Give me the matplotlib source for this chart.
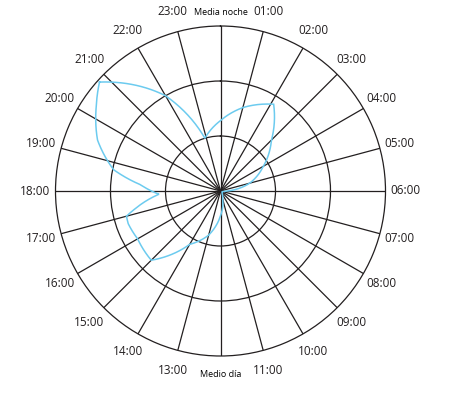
import numpy as np
import matplotlib.pyplot as plt

# labels around the clock, midnight at the top, running clockwise
hour_labels = ['Media noche', '01:00', '02:00', '03:00', '04:00', '05:00',
               '06:00', '07:00', '08:00', '09:00', '10:00', '11:00',
               'Medio día', '13:00', '14:00', '15:00', '16:00', '17:00',
               '18:00', '19:00', '20:00', '21:00', '22:00', '23:00']

# curve: hour of day and radius (outer ring = 3)
curve_hours = [20.8, 22.0, 22.9, 0.0, 1.0, 2.1, 3.0, 4.0, 5.0, 6.0, 7.0, 8.0,
               9.0, 10.0, 11.0, 12.0, 13.0, 14.0, 15.0, 16.0, 16.7, 17.0,
               17.2, 17.8, 18.3, 18.75, 19.5, 20.3]
curve_values = [2.96, 2.0, 1.0, 1.28, 1.57, 1.85, 1.31, 0.9, 0.55, 0.1, 0.04,
                0.03, 0.04, 0.06, 0.15, 0.45, 0.83, 1.12, 1.78, 1.74, 1.78,
                1.77, 1.6, 1.12, 1.46, 1.98, 2.42, 2.74]

ink = '#231f20'
cyan = '#6ccbef'

plt.rcParams['font.family'] = ['Open Sans', 'DejaVu Sans']

fig = plt.figure(figsize=(4.69, 4.01), dpi=100, facecolor='white')
ax = fig.add_axes([55.5 / 469, 45 / 401, 330 / 469, 330 / 401], projection='polar')
ax.set_theta_zero_location('N')
ax.set_theta_direction(-1)
ax.set_ylim(0, 3)
ax.set_yticks([1, 2])
ax.set_yticklabels([])
ax.set_xticks(np.deg2rad(np.arange(24) * 15))
ax.set_xticklabels([])
ax.tick_params(length=0)
ax.grid(True, color=ink, lw=0.9)
ax.spines['polar'].set_color(ink)
ax.spines['polar'].set_linewidth(0.9)

th = np.deg2rad(np.array(curve_hours + curve_hours[:1]) * 15)
th = np.unwrap(th)
rr = np.array(curve_values + curve_values[:1])
line, = ax.plot(th, rr, color=cyan, lw=1.1, solid_joinstyle='miter')
# let the polar transform bend each segment like a spiral, as in the original
line.get_path()._interpolation_steps = 40

for i, lab in enumerate(hour_labels):
    t = np.deg2rad(i * 15)
    if i == 0:
        ax.text(t, 3.25, lab, fontsize=6.5, ha='center', va='center', clip_on=False)
    elif i == 12:
        ax.text(t, 3.33, lab, fontsize=6.5, ha='center', va='center', clip_on=False)
    else:
        ax.text(t, 3.37, lab, fontsize=8.5, ha='center', va='center', clip_on=False,
                color=ink)

fig.savefig('out.png', dpi=100)
